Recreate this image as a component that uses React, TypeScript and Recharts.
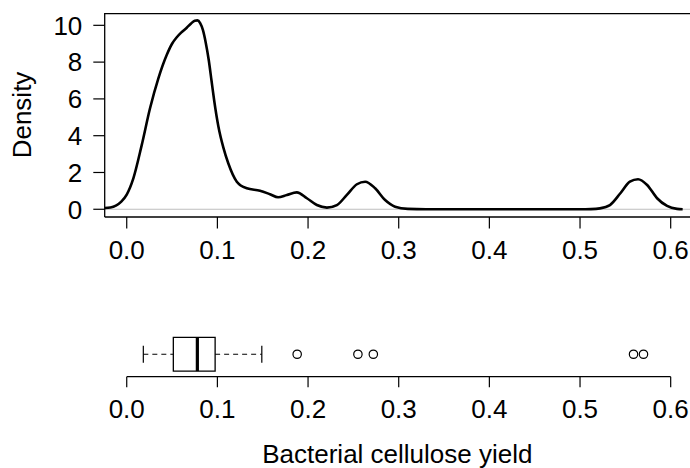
import React from 'react';
import {
    LineChart, Line, XAxis, YAxis, ReferenceLine, ReferenceArea, ComposedChart, Scatter,
} from 'recharts';

// Kernel density estimate
const densityX = [
    -0.0243, -0.018, -0.012, -0.006, 0, 0.0073, 0.0166, 0.0257, 0.0349, 0.0442, 0.05, 0.0552,
    0.06, 0.0662, 0.071, 0.075, 0.078, 0.081, 0.084, 0.087, 0.0905, 0.0935, 0.0965, 0.1011, 0.1066,
    0.112, 0.1214, 0.1325, 0.147, 0.158, 0.167, 0.1766, 0.1876, 0.1987, 0.2097, 0.2208, 0.2318,
    0.2428, 0.2539, 0.263, 0.274, 0.285, 0.296, 0.31, 0.33, 0.4, 0.5, 0.512, 0.522, 0.533, 0.5445,
    0.555, 0.564, 0.574, 0.585, 0.596, 0.607, 0.6132,
];
const densityY = [
    0.07, 0.1, 0.2, 0.42, 0.8, 1.68, 3.5, 5.49, 7.12, 8.4, 9.0, 9.35,
    9.6, 9.87, 10.1, 10.25, 10.27, 10.12, 9.75, 9.1, 8.1, 7.0, 5.9, 4.5, 3.35,
    2.5, 1.5, 1.14, 1.01, 0.82, 0.65, 0.78, 0.92, 0.6, 0.23, 0.09, 0.23,
    0.78, 1.36, 1.5, 1.14, 0.5, 0.14, 0.02, 0, 0, 0, 0.01, 0.05, 0.23, 0.87,
    1.5, 1.63, 1.32, 0.6, 0.18, 0.02, 0,
];

// Boxplot summary
const whiskerLow = 0.0183;
const quartile1 = 0.0514;
const median = 0.0779;
const quartile3 = 0.0975;
const whiskerHigh = 0.149;
const outliers = [0.188, 0.255, 0.272, 0.559, 0.570];

const xTicks = [0, 0.1, 0.2, 0.3, 0.4, 0.5, 0.6];
const yTicks = [0, 2, 4, 6, 8, 10];

const X_DOMAIN: [number, number] = [-0.0243, 0.6213];
const Y_DOMAIN: [number, number] = [-0.42, 10.67];
const BOX_DOMAIN: [number, number] = [0.466, 1.5];

const FONT = '"Liberation Sans", Arial, Helvetica, sans-serif';
const tickStyle = { fontSize: 26, fill: '#000', fontFamily: FONT };

const densityData = densityX.map((x, i) => ({ x, d: densityY[i] }));
const outlierData = outliers.map((x) => ({ x, y: 1 }));

const DensityLabel = (props: any) => {
    const vb = props.viewBox || { x: 0, y: 13, width: 105, height: 204 };
    const cx = vb.x + 30.5;
    const cy = vb.y + vb.height / 2;
    return (
        <text x={cx} y={cy} transform={`rotate(-90 ${cx} ${cy})`} textAnchor="middle"
            fontSize={26} fontFamily={FONT} fill="#000">Density</text>
    );
};

const TitleLabel = (props: any) => {
    const vb = props.viewBox || { x: 104.7, y: 76.7, width: 585.3, height: 70 };
    return (
        <text x={vb.x + vb.width / 2} y={vb.y + 86.6} textAnchor="middle"
            fontSize={26} fontFamily={FONT} fill="#000">Bacterial cellulose yield</text>
    );
};

const HollowCircle = (props: any) => (
    <circle cx={props.cx} cy={props.cy} r={4.2} fill="none" stroke="#000" strokeWidth={1.2} />
);

export default function App() {
    return (
        <div style={{ position: 'absolute', left: 0, top: 0, width: 690, height: 468, background: '#fff' }}>
            <LineChart width={690} height={300} data={densityData}
                margin={{ top: 13, right: 0, bottom: 23, left: 0 }}>
                <XAxis dataKey="x" type="number" domain={X_DOMAIN} allowDataOverflow ticks={xTicks}
                    interval={0} tickFormatter={(v: number) => v.toFixed(1)} height={60}
                    tickSize={11.5} tickMargin={12} tick={tickStyle}
                    stroke="#000" axisLine={{ stroke: '#000', strokeWidth: 1.3 }}
                    tickLine={{ stroke: '#000', strokeWidth: 1.2 }} />
                <YAxis type="number" domain={Y_DOMAIN} allowDataOverflow ticks={yTicks} interval={0}
                    width={104.7} tickSize={11.4} tickMargin={11} tick={tickStyle}
                    stroke="#000" axisLine={{ stroke: '#000', strokeWidth: 1.3 }}
                    tickLine={{ stroke: '#000', strokeWidth: 1.2 }} label={DensityLabel} />
                {/* top edge of the plot frame */}
                <ReferenceLine y={Y_DOMAIN[1] - 0.035} stroke="#000" strokeWidth={1.3} />
                <ReferenceLine y={0} stroke="#bebebe" strokeWidth={1.2} />
                <Line type="monotone" dataKey="d" stroke="#000" strokeWidth={2.6} dot={false}
                    isAnimationActive={false} />
            </LineChart>
            <ComposedChart width={690} height={168}
                margin={{ top: 33.2, right: 0, bottom: 21.3, left: 104.7 }}>
                <XAxis dataKey="x" type="number" domain={X_DOMAIN} allowDataOverflow ticks={xTicks}
                    interval={0} tickFormatter={(v: number) => v.toFixed(1)} height={70}
                    tickSize={10.6} tickMargin={12} tick={tickStyle} axisLine={false}
                    tickLine={{ stroke: '#000', strokeWidth: 1.2 }} label={TitleLabel} />
                <YAxis type="number" dataKey="y" domain={BOX_DOMAIN} allowDataOverflow hide />
                <ReferenceLine segment={[{ x: xTicks[0], y: BOX_DOMAIN[0] }, { x: xTicks[xTicks.length - 1], y: BOX_DOMAIN[0] }]}
                    stroke="#000" strokeWidth={1.3} ifOverflow="visible" />
                <ReferenceLine segment={[{ x: whiskerLow, y: 1 }, { x: quartile1, y: 1 }]}
                    stroke="#000" strokeWidth={1.2} strokeDasharray="5 4" ifOverflow="visible" />
                <ReferenceLine segment={[{ x: quartile3, y: 1 }, { x: whiskerHigh, y: 1 }]}
                    stroke="#000" strokeWidth={1.2} strokeDasharray="5 4" ifOverflow="visible" />
                <ReferenceLine segment={[{ x: whiskerLow, y: 0.8 }, { x: whiskerLow, y: 1.2 }]}
                    stroke="#000" strokeWidth={1.2} ifOverflow="visible" />
                <ReferenceLine segment={[{ x: whiskerHigh, y: 0.8 }, { x: whiskerHigh, y: 1.2 }]}
                    stroke="#000" strokeWidth={1.2} ifOverflow="visible" />
                <ReferenceArea x1={quartile1} x2={quartile3} y1={0.6} y2={1.4} fill="#fff" fillOpacity={1}
                    stroke="#000" strokeWidth={1.3} ifOverflow="visible" />
                <ReferenceLine segment={[{ x: median, y: 0.6 }, { x: median, y: 1.4 }]}
                    stroke="#000" strokeWidth={3.2} ifOverflow="visible" />
                <Scatter data={outlierData} dataKey="y" shape={HollowCircle} isAnimationActive={false} />
            </ComposedChart>
        </div>
    );
}
